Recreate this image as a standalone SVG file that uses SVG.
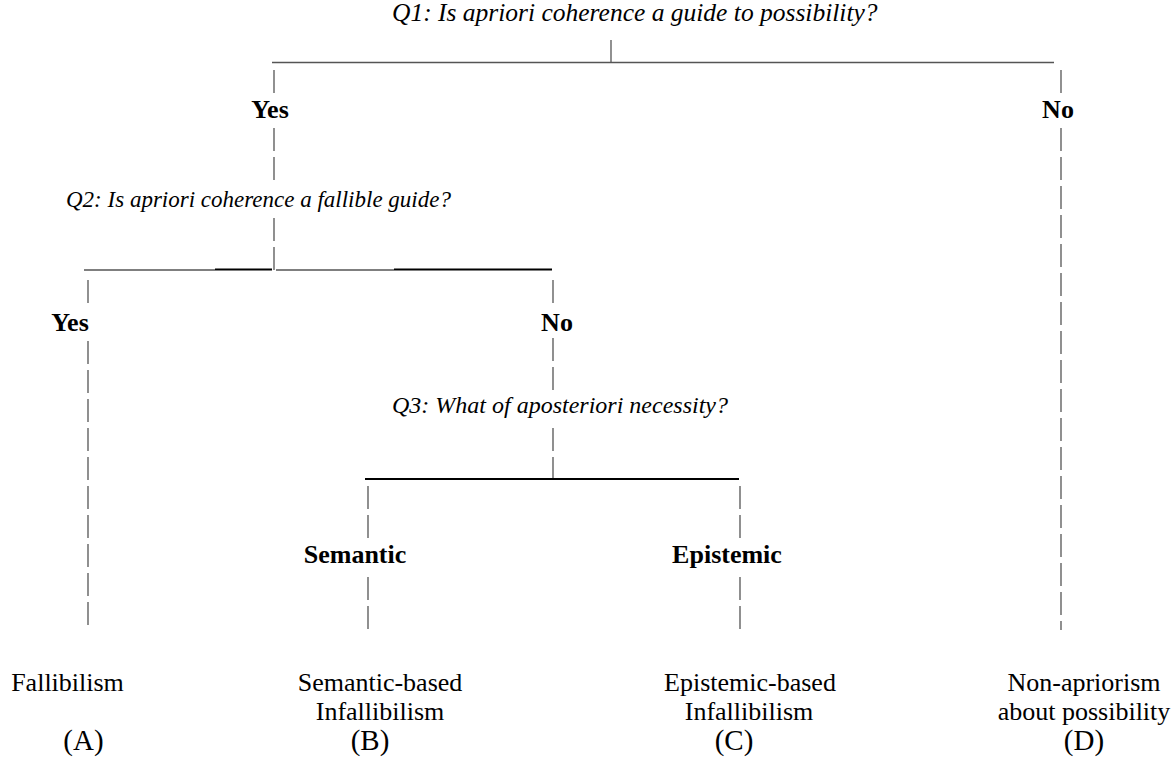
<svg xmlns="http://www.w3.org/2000/svg" width="1173" height="757" viewBox="0 0 1173 757">
<style>
text{font-family:"Liberation Serif","Times New Roman",serif;fill:#000}
.q{font-style:italic;font-size:24px}
.b{font-weight:bold;font-size:26px;text-anchor:middle}
.r{font-size:26px;text-anchor:middle}
.l{font-size:29px;text-anchor:middle}
.h{stroke:#555;stroke-width:1.3;fill:none}
.k{stroke:#000;stroke-width:2;fill:none}
.v{stroke:#555;stroke-width:1.3;fill:none;stroke-dasharray:23 6}
</style>
<rect width="1173" height="757" fill="#fff"/>
<g id="connectors">
  <line class="h" x1="272" y1="62.5" x2="1054" y2="62.5"/>
  <line class="h" x1="611" y1="40" x2="611" y2="62.5"/>
  <line class="v" x1="274" y1="70" x2="274" y2="93"/>
  <line class="v" x1="274" y1="128" x2="274" y2="180"/>
  <line class="v" x1="274" y1="218" x2="274" y2="270"/>
  <line class="v" x1="1061" y1="70" x2="1061" y2="93"/>
  <line class="v" x1="1061" y1="128" x2="1061" y2="630"/>
  <line class="h" x1="84" y1="270" x2="215" y2="270"/>
  <line class="k" x1="215" y1="269.5" x2="272" y2="269.5"/>
  <line class="h" x1="276" y1="270" x2="394" y2="270"/>
  <line class="k" x1="394" y1="269.5" x2="552" y2="269.5"/>
  <line class="v" x1="88" y1="280" x2="88" y2="303"/>
  <line class="v" x1="88" y1="341" x2="88" y2="630"/>
  <line class="v" x1="553" y1="280" x2="553" y2="303"/>
  <line class="v" x1="553" y1="338" x2="553" y2="390"/>
  <line class="v" x1="553" y1="428" x2="553" y2="480"/>
  <line class="k" x1="365" y1="479" x2="739" y2="479"/>
  <line class="v" x1="368" y1="486" x2="368" y2="538"/>
  <line class="v" x1="368" y1="577" x2="368" y2="630"/>
  <line class="v" x1="740" y1="486" x2="740" y2="538"/>
  <line class="v" x1="740" y1="577" x2="740" y2="630"/>
</g>
<g id="q1"><text class="q" x="392" y="21" style="font-size:25.5px">Q1: Is apriori coherence a guide to possibility?</text></g>
<g id="q1-yes"><text class="b" x="270" y="118">Yes</text></g>
<g id="q1-no"><text class="b" x="1058" y="118">No</text></g>
<g id="q2"><text class="q" x="66" y="207" style="font-size:23px">Q2: Is apriori coherence a fallible guide?</text></g>
<g id="q2-yes"><text class="b" x="70" y="331">Yes</text></g>
<g id="q2-no"><text class="b" x="557" y="331">No</text></g>
<g id="q3"><text class="q" x="392" y="413">Q3: What of aposteriori necessity?</text></g>
<g id="q3-semantic"><text class="b" x="355" y="563">Semantic</text></g>
<g id="q3-epistemic"><text class="b" x="727" y="563">Epistemic</text></g>
<g id="A"><text class="r" x="67.5" y="691">Fallibilism</text><text class="l" x="83.5" y="750">(A)</text></g>
<g id="B"><text class="r" x="380" y="691">Semantic-based</text><text class="r" x="380" y="720">Infallibilism</text><text class="l" x="370" y="750">(B)</text></g>
<g id="C"><text class="r" x="750" y="691">Epistemic-based</text><text class="r" x="749" y="720">Infallibilism</text><text class="l" x="734" y="750">(C)</text></g>
<g id="D"><text class="r" x="1084" y="691">Non-apriorism</text><text class="r" x="1084" y="720">about possibility</text><text class="l" x="1084" y="750">(D)</text></g>
</svg>
